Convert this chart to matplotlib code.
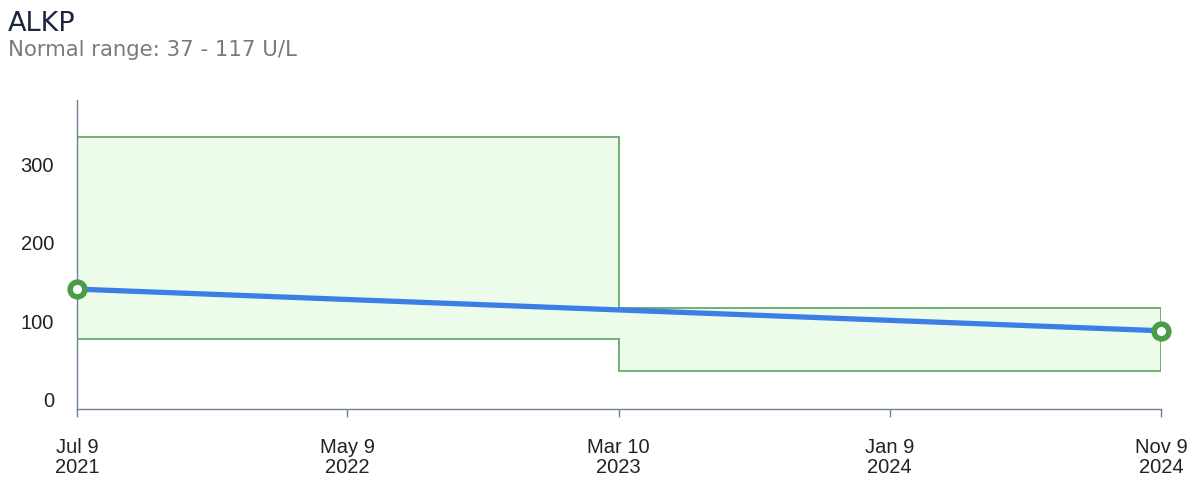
import matplotlib
matplotlib.use("Agg")
import matplotlib.pyplot as plt
import matplotlib.dates as mdates
from datetime import datetime

# Data
dates = ["2021-07-09", "2024-11-09"]
values = [141, 88]
range_dates = ["2021-07-09", "2023-03-10", "2024-11-09"]
range_low = [78, 37]
range_high = [334, 117]
tick_dates = ["2021-07-09", "2022-05-09", "2023-03-10", "2024-01-09", "2024-11-09"]
tick_labels = ["Jul 9\n2021", "May 9\n2022", "Mar 10\n2023", "Jan 9\n2024", "Nov 9\n2024"]
y_ticks = [0, 100, 200, 300]
title = "ALKP"
subtitle = "Normal range: 37 - 117 U/L"

to_dt = lambda s: datetime.strptime(s, "%Y-%m-%d")
x = [to_dt(d) for d in dates]
rx = [to_dt(d) for d in range_dates]
tx = [to_dt(d) for d in tick_dates]

W, H = 1200, 499
fig = plt.figure(figsize=(W / 100, H / 100), dpi=100)
ax = fig.add_axes([77 / W, (H - 409) / H, (1161 - 77) / W, (409 - 100) / H])

axis_col = "#6e8196"
fill_col = "#edfbeb"
edge_col = "#6aa86c"

# range bands
n = len(range_low)
for i in range(n):
    x0 = mdates.date2num(rx[i])
    x1 = mdates.date2num(rx[i + 1])
    ax.fill_between([x0, x1], range_low[i], range_high[i], color=fill_col, lw=0, zorder=1)
top_x = [mdates.date2num(rx[0])]
top_y = [range_high[0]]
bot_x = [mdates.date2num(rx[0])]
bot_y = [range_low[0]]
for i in range(n):
    xe = mdates.date2num(rx[i + 1])
    top_x.append(xe); top_y.append(range_high[i])
    bot_x.append(xe); bot_y.append(range_low[i])
    if i + 1 < n:
        top_x.append(xe); top_y.append(range_high[i + 1])
        bot_x.append(xe); bot_y.append(range_low[i + 1])
ax.plot(top_x + [top_x[-1]], top_y + [bot_y[-1]], color=edge_col, lw=1.3, zorder=2, solid_joinstyle="miter")
ax.plot(bot_x, bot_y, color=edge_col, lw=1.3, zorder=2, solid_joinstyle="miter")

# line
xn = mdates.date2num(x)
ax.plot(xn, values, color="#3b7ee6", lw=3.8, zorder=3, solid_capstyle="butt")
ax.plot(xn, values, ls="none", marker="o", ms=10.6, mew=4.0, mec="#4a9c47", mfc="white", zorder=4, clip_on=False)

ax.set_xlim(mdates.date2num(tx[0]), mdates.date2num(tx[-1]))
ax.set_ylim(-11.5, 381.5)
ax.set_xticks(mdates.date2num(tx))
ax.set_xticklabels(tick_labels)
ax.set_yticks(y_ticks)

for s in ["top", "right"]:
    ax.spines[s].set_visible(False)
for s in ["left", "bottom"]:
    ax.spines[s].set_color(axis_col)
    ax.spines[s].set_linewidth(1.0)

ax.tick_params(axis="x", length=6, width=1, color=axis_col, pad=15, labelsize=14.5, labelcolor="#222222")
ax.tick_params(axis="y", length=0, pad=16.5, labelsize=14.5, labelcolor="#222222")
for lab in ax.get_xticklabels() + ax.get_yticklabels():
    lab.set_fontfamily("Liberation Sans")
for lab in ax.get_xticklabels():
    lab.set_linespacing(1.05)

fig.text(8 / W, 1 - 31 / H, title, fontsize=19.5, color="#1b2440", family="DejaVu Sans", va="baseline", ha="left")
fig.text(8 / W, 1 - 56 / H, subtitle, fontsize=15.3, color="#7a7a7a", family="DejaVu Sans", va="baseline", ha="left")

fig.savefig("out.png", dpi=100, facecolor="white")
